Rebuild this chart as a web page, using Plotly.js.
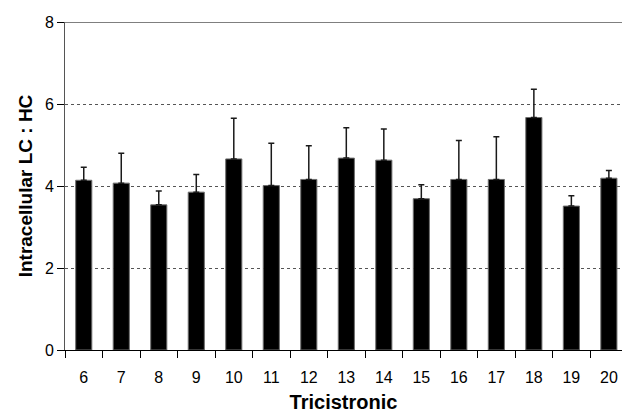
<!DOCTYPE html>
<html>
<head>
<meta charset="utf-8">
<script src="https://cdn.plot.ly/plotly-3.0.1.min.js"></script>
<style>html,body{margin:0;padding:0;background:#fff;overflow:hidden;}#chart{width:622px;height:416px;}</style>
</head>
<body>
<div id="chart"></div>
<script>
const categories = ["6","7","8","9","10","11","12","13","14","15","16","17","18","19","20"];
const ratioValues = [4.14, 4.07, 3.54, 3.85, 4.66, 4.01, 4.16, 4.68, 4.63, 3.69, 4.16, 4.16, 5.67, 3.51, 4.19];
const errorUpper = [0.32, 0.73, 0.34, 0.43, 0.99, 1.03, 0.82, 0.74, 0.76, 0.34, 0.95, 1.04, 0.69, 0.25, 0.19];
const yTickValues = [0, 2, 4, 6, 8];

const trace = {
  type: 'bar',
  x: categories,
  y: ratioValues,
  marker: {color: '#000000', line: {color: '#6e6e6e', width: 1}},
  error_y: {type: 'data', symmetric: false, array: errorUpper, arrayminus: errorUpper.map(() => 0),
            color: '#1a1a1a', thickness: 1.5, width: 3},
  hoverinfo: 'none'
};

const layout = {
  width: 622, height: 416,
  margin: {l: 65, r: 0, t: 22, b: 66},
  paper_bgcolor: '#ffffff', plot_bgcolor: '#ffffff',
  font: {family: 'Liberation Sans, Arial, sans-serif', color: '#000000', size: 16},
  bargap: 0.57,
  showlegend: false,
  xaxis: {
    type: 'category',
    range: [-0.5, 14.35],
    tickson: 'boundaries',
    ticks: 'outside', ticklen: 7, tickcolor: '#000000', tickwidth: 1,
    ticklabelstandoff: 13,
    showline: true, linecolor: '#000000', linewidth: 1,
    showgrid: false,
    tickfont: {size: 16},
    title: {text: 'Tricistronic', font: {size: 20, family: 'Liberation Sans, Arial, sans-serif', weight: 'bold'}, standoff: 9},
    automargin: true
  },
  yaxis: {
    range: [0, 8],
    tickvals: yTickValues,
    ticktext: yTickValues.map(String),
    ticks: 'outside', ticklen: 7, tickcolor: '#000000', tickwidth: 1,
    showline: true, linecolor: '#555555', linewidth: 1,
    showgrid: true, gridcolor: '#555555', griddash: 'dot', gridwidth: 1,
    zeroline: false,
    tickfont: {size: 16},
    title: {text: 'Intracellular LC : HC', font: {size: 19, family: 'Liberation Sans, Arial, sans-serif', weight: 'bold'}, standoff: 7},
    automargin: true
  },
  shapes: [{type: 'line', xref: 'paper', yref: 'y', x0: 0, x1: 1, y0: 8, y1: 8, line: {color: '#555555', width: 1.5}}]
};

Plotly.newPlot('chart', [trace], layout, {displayModeBar: false, staticPlot: true});
</script>
</body>
</html>
